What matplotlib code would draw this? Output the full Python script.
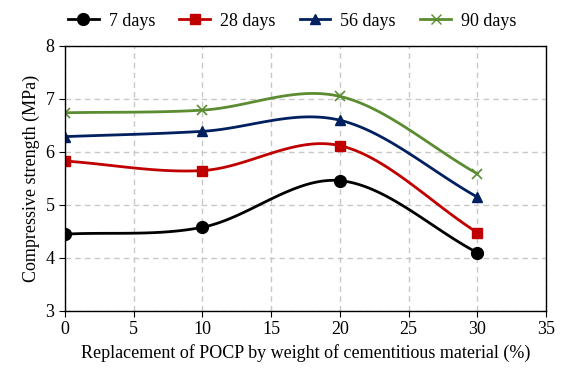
import numpy as np
from matplotlib import pyplot as plt

plt.rcParams['font.family'] = ['Liberation Serif', 'DejaVu Serif']

replacement = [0, 10, 20, 30]
days_7 = [4.45, 4.58, 5.46, 4.10]
days_28 = [5.83, 5.65, 6.12, 4.48]
days_56 = [6.29, 6.39, 6.60, 5.15]
days_90 = [6.74, 6.79, 7.05, 5.59]


# Catmull-Rom style smoothing like spreadsheet "smoothed line"
def smooth(x, y, n=40):
    x = np.asarray(x, float)
    y = np.asarray(y, float)
    px = np.concatenate([[2 * x[0] - x[1]], x, [2 * x[-1] - x[-2]]])
    py = np.concatenate([[2 * y[0] - y[1]], y, [2 * y[-1] - y[-2]]])
    xs, ys = [], []
    t = np.linspace(0, 1, n)
    for i in range(1, len(px) - 2):
        p0, p1, p2, p3 = (np.array([px[j], py[j]]) for j in range(i - 1, i + 3))
        tt = t[:, None]
        pts = 0.5 * ((2 * p1) + (-p0 + p2) * tt + (2 * p0 - 5 * p1 + 4 * p2 - p3) * tt ** 2
                     + (-p0 + 3 * p1 - 3 * p2 + p3) * tt ** 3)
        xs.extend(pts[:, 0])
        ys.extend(pts[:, 1])
    return xs, ys


fig = plt.figure(figsize=(5.66, 3.68), dpi=100)
ax = fig.add_axes([0.1148, 0.1549, 0.8499, 0.7201])

series = [
    (days_7, "7 days", "black", "o", 8.5),
    (days_28, "28 days", "#C00000", "s", 7.5),
    (days_56, "56 days", "#002060", "^", 7.5),
    (days_90, "90 days", "#5B8C32", "x", 7.5),
]
for y, label, color, marker, ms in series:
    sx, sy = smooth(replacement, y)
    ax.plot(sx, sy, color=color, lw=2)
    ax.plot(replacement, y, linestyle="none", marker=marker, color=color,
            markersize=ms, markeredgewidth=1.2 if marker == "x" else 1)
    ax.plot([], [], color=color, lw=2, marker=marker, markersize=ms, label=label)

ax.set_xlim(0, 35)
ax.set_ylim(3, 8)
ax.set_xticks(range(0, 36, 5))
ax.set_yticks(range(3, 9))
ax.grid(True, linestyle=(0, (4, 3)), color="#c8c8c8", lw=1)
ax.set_axisbelow(True)
for s in ax.spines.values():
    s.set_color("black")
    s.set_linewidth(1)
ax.tick_params(direction="out", length=4, labelsize=13, color="black")
ax.set_xlabel("Replacement of POCP by weight of cementitious material (%)", fontsize=13)
ax.set_ylabel("Compressive strength (MPa)", fontsize=13)

ax.legend(loc="lower center", bbox_to_anchor=(0.472, 1.0), ncol=4, frameon=False,
          fontsize=13, handlelength=1.7, columnspacing=1.35, handletextpad=0.55)

fig.savefig("out.png", dpi=100)
